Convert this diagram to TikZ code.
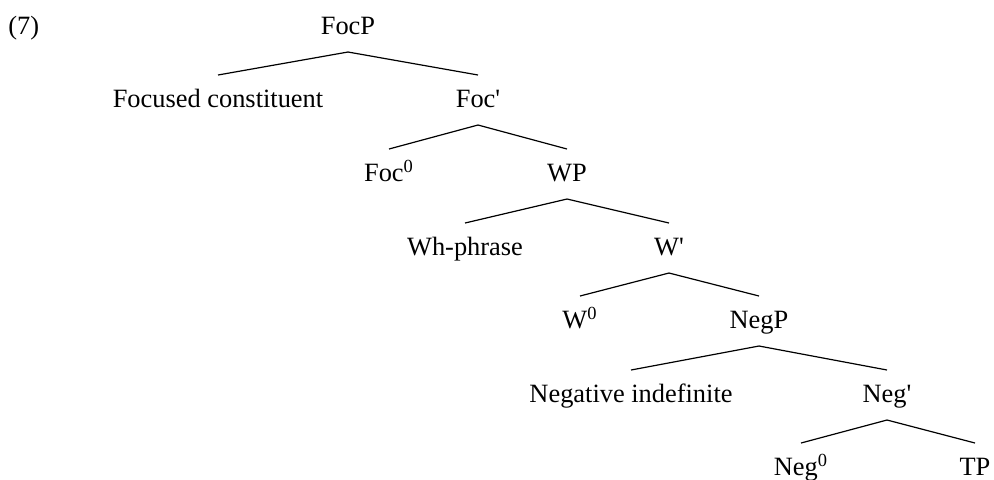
\documentclass[tikz,border=0pt]{standalone}
\usepackage{fontspec}
\setmainfont{Liberation Serif}
\usetikzlibrary{calc}
\tikzset{
  lbl/.style={anchor=base, inner sep=0pt, font=\fontsize{13.2}{16}\selectfont},
  branch/.style={line width=0.6pt},
}
% branch from just below the parent's label to just above the child's label
\newcommand{\treeedge}[2]{\draw[branch] ($(#1.base)+(0,18)$) -- ($(#2.base)+(0,-32)$);}
\newcommand{\xbar}{\textquotesingle}
\begin{document}
\begin{tikzpicture}[x=0.5pt,y=-0.5pt]
  \useasboundingbox (0,0) rectangle (994,479);
  \node[lbl, anchor=base west] (ex) at (8,34) {(7)};
  \node[lbl] (FocP) at (348,34) {FocP};
  \node[lbl] (FocC) at (218,107) {Focused constituent};
  \node[lbl] (Focb) at (478,107) {Foc\xbar};
  \node[lbl] (Foc0) at (389,181) {Foc\textsuperscript{0}};
  \node[lbl] (WP) at (567,181) {WP};
  \node[lbl] (Wh) at (465,255) {Wh-phrase};
  \node[lbl] (Wb) at (669,255) {W\xbar};
  \node[lbl] (W0) at (580,328) {W\textsuperscript{0}};
  \node[lbl] (NegP) at (759,328) {NegP};
  \node[lbl] (NegI) at (631,402) {Negative indefinite};
  \node[lbl] (Negb) at (887,402) {Neg\xbar};
  \node[lbl] (Neg0) at (801,475) {Neg\textsuperscript{0}};
  \node[lbl] (TP) at (975,475) {TP};
  \treeedge{FocP}{FocC}
  \treeedge{FocP}{Focb}
  \treeedge{Focb}{Foc0}
  \treeedge{Focb}{WP}
  \treeedge{WP}{Wh}
  \treeedge{WP}{Wb}
  \treeedge{Wb}{W0}
  \treeedge{Wb}{NegP}
  \treeedge{NegP}{NegI}
  \treeedge{NegP}{Negb}
  \treeedge{Negb}{Neg0}
  \treeedge{Negb}{TP}
\end{tikzpicture}
\end{document}
